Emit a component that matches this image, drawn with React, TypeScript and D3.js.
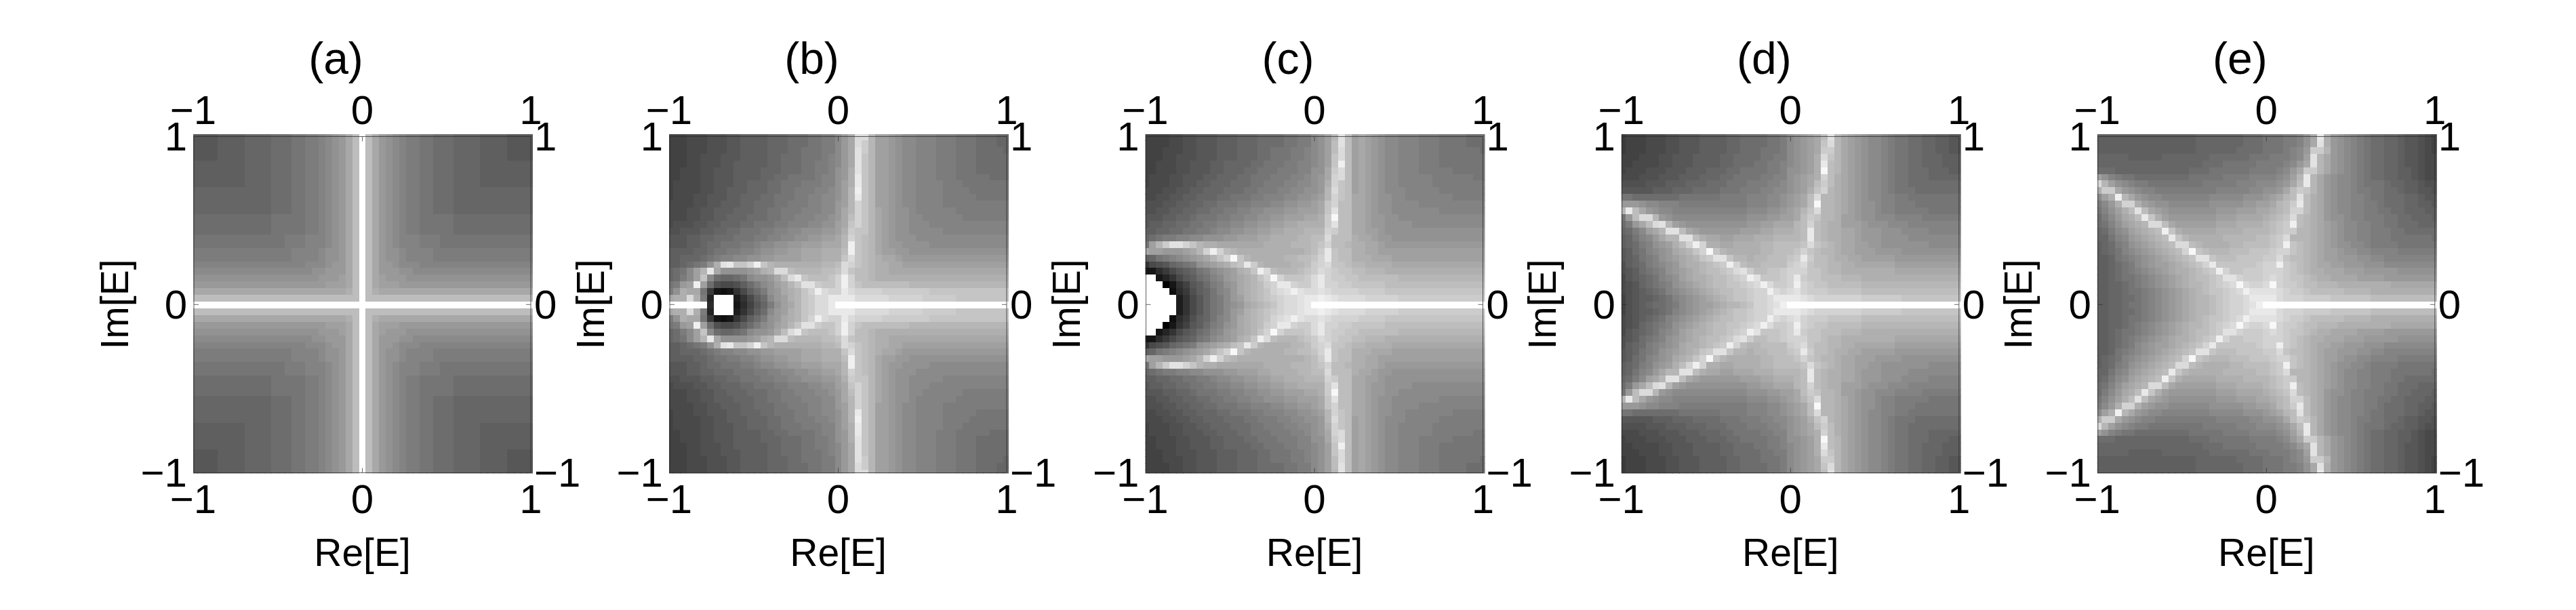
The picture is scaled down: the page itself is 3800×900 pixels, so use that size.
import React from "react";
import * as d3 from "d3";

// Grey level of each cell, one base-36 digit per cell (0 = black, z = white).
// Rows run from Im[E] = 1 down to Im[E] = 0; the lower half of every panel mirrors the upper half.
const panelA = [
  "ccccd dddee eefff gghhi jklnq z qnlkj ihhgg fffee eeddd dcccc",
  "ccccd dddee eefff gghhi jklnq z qnlkj ihhgg fffee eeddd dcccc",
  "ccccd dddee eefff gghhi jklnq z qnlkj ihhgg fffee eeddd dcccc",
  "ccccd dddee eefff gghhi jklnq z qnlkj ihhgg fffee eeddd dcccc",
  "ddddd dddee eefff gghhi jklnq z qnlkj ihhgg fffee eeddd ddddd",
  "ddddd dddee eefff gghhi jklnq z qnlkj ihhgg fffee eeddd ddddd",
  "ddddd dddee eefff gghhi jklnq z qnlkj ihhgg fffee eeddd ddddd",
  "ddddd dddee eefff gghhi jklnq z qnlkj ihhgg fffee eeddd ddddd",
  "eeeee eeeee eefff gghhi jklnq z qnlkj ihhgg fffee eeeee eeeee",
  "eeeee eeeee eefff gghhi jklnq z qnlkj ihhgg fffee eeeee eeeee",
  "eeeee eeeee eefff gghhi jklnq z qnlkj ihhgg fffee eeeee eeeee",
  "eeeee eeeee eefff gghhi jklnq z qnlkj ihhgg fffee eeeee eeeee",
  "fffff fffff ffggg gghhi jklnq z qnlkj ihhgg gggff fffff fffff",
  "fffff fffff ffggg gghhi jklnq z qnlkj ihhgg gggff fffff fffff",
  "fffff fffff ffggg gghhi jklnq z qnlkj ihhgg gggff fffff fffff",
  "ggggg ggggg ggggh hhiii jklnq z qnlkj iiihh hgggg ggggg ggggg",
  "ggggg ggggg ggggh hhiii jklnq z qnlkj iiihh hgggg ggggg ggggg",
  "hhhhh hhhhh hhhhh iiiij kklnq z qnlkk jiiii hhhhh hhhhh hhhhh",
  "hhhhh hhhhh hhhhh iiiij kklnq z qnlkk jiiii hhhhh hhhhh hhhhh",
  "iiiii iiiii iiiii iijjj kllnq z qnllk jjjii iiiii iiiii iiiii",
  "jjjjj jjjjj jjjjj jjjkk lllnq z qnlll kkjjj jjjjj jjjjj jjjjj",
  "kkkkk kkkkk kkkkk kkkkl llmnq z qnmll lkkkk kkkkk kkkkk kkkkk",
  "lllll lllll lllll lllll mmmnq z qnmmm lllll lllll lllll lllll",
  "nnnnn nnnnn nnnnn nnnnn nnnoq z qonnn nnnnn nnnnn nnnnn nnnnn",
  "qqqqq qqqqq qqqqq qqqqq qqqqq z qqqqq qqqqq qqqqq qqqqq qqqqq",
  "zzzzz zzzzz zzzzz zzzzz zzzzz z zzzzz zzzzz zzzzz zzzzz zzzzz",
];

const panelB = [
  "999aa abbbc cdddd eeeff fgghh j lnuup mmlkj jiiih hhggg fffee",
  "999aa abbbc cdddd eeeff fgghh j lnusp mmlkj jiiih hhggg fffee",
  "999aa abbbc cdddd eeeff ggghh j lnvsp mmlkj jiiih hhggg ffffe",
  "999aa bbbcc cdddd eefff ggghi j lnvrp mmlkj jiiih hhggg fffff",
  "999aa bbbcc ddddd eefff gghhi j lnvrp mmlkj jiiih hhggg fffff",
  "99aaa bbccc dddde eefff gghhi k lovrp mmlkj jiiih hhggg fffff",
  "99aaa bbccc dddde effgg gghii k lowrp mmlkj jiiih hhggg ggfff",
  "9aaaa bbccc ddeee ffggg hhhii k mowrp mmlkj jiiii hhhgg ggggg",
  "9aaaa bbccd ddeee ffggh hhiij k mpxrp mmlkj jiiii hhhhg ggggg",
  "9aaab bcccd deeef fgggh hiijj k mpwrp mmlkj jiiii hhhhh ggggg",
  "aaaab bccdd deeff fgghh hiijj l mptrp mmlkj jiiii hhhhh hhhhh",
  "aaabb ccddd eeeff gghhh iiijj l nptrp nmlkk jiiii iihhh hhhhh",
  "aaabb ccdde eefff gghhi iijjk l nqtrp nmlkk jjiii iiihh hhhhh",
  "abbbc cddee effgg ghhii ijjkk m nrtrp nmlkk jjjii iiiii iiiii",
  "bbccc ddeef fgggh hiijj kkkll m osrrp nmlkk jjjjj iiiii iiiii",
  "cccdd eefff ggghh iijjk kllmm n ptrqp nmlkk kjjjj jjjjj jjjjj",
  "cccdd effgg ghhij jkkll mmmnn n pxrqp nmllk kkkjj jjjjj jjjjj",
  "dddde efggh hiijk kllmm nnnoo o qxrqp nmmll kkkkk kkkkk kkkkk",
  "ddeee fghii jjkkl lmmmm nnnoo o rurqp onnml lllll lllll lllll",
  "ddefg hkovw rrtxr poooo ooopp q utrqp oonnm mmmmm mmmmm mmmmm",
  "efgjm pwnkk kklmo puuqp pppqq r urqqp oonnn nnnnn nnnnn nnnnn",
  "efhjm rjfee fgjkk lnquw rqqqr t xtqqp ooooo ooooo ooooo ooooo",
  "ghlmx mfbaa bdfhj kmnpr vvsrr t xtrqq qqqqq ppppp ppppp ppppp",
  "hkonn g8323 7adfh klnop rtxut t wuttt tssss sssrr rrrrr rrrrr",
  "noouo h5zzz 47adf jlmop rsuuw w wwuuu uuttt ttsss ssrrr rrrrr",
  "zzzzz z6zzz 369ce hkmnp rsuuw z zzzzz zzzzz zzzzz zzzzz zzzzz",
];

const panelC = [
  "9999a abbcc cddde eefff fgghh j kmpvq mnmlk jjiii hhhgg ggfff",
  "9999a abbcc cddde eefff fgghh j kmqvq mnmlk jjiii hhhgg ggfff",
  "999aa abbcc cddde eeffg gghhi j kmquq mnmlk jjiii hhhgg ggggf",
  "999aa bbbcc cddde eeffg gghhi j kmruq mnmlk jjiii hhhgg ggggg",
  "99aaa bbccc ddeee effgg ghhii j kmrxq mnmlk jjiii hhhgg ggggg",
  "99aaa bbccc ddeee ffggg hhhii k knsuq mnmlk jjiii hhhhh ggggg",
  "9aaab bcccd deeef fgggh hhiij k lntuq mnmlk jjiii iihhh hhhgg",
  "9aaab bccdd eeeff fgghh hiijj k lotrq mnmlk jjiii iihhh hhhhh",
  "aaabb ccdde eefff gghhh iijjk k lpurq mnmlk jjjii iiihh hhhhh",
  "aabbc cddee effgg ghhii ijjkk l mptrq nnmlk kjjii iiiii hhhhh",
  "bbbcc ddeef fgggh hiiij jkkll m nrtqq nnmlk kjjjj iiiii iiiii",
  "bbccd deeff gghhi ijjkk kllmm m nrvqq nnmlk kjjjj jjjii iiiii",
  "cccdd eefgg ghhii jjkkl lmmmn n osyqq nnmll kkjjj jjjjj jjjjj",
  "cddee ffggh hiijj kkllm mnnoo o osvqq nnmll kkkkj jjjjj jjjjj",
  "ddeef fgghh ijjkk llmmn nooop p ptsqq nnmml kkkkk kkkkk kkkkk",
  "efghh iijjk kkllm mmnno ooopp q quqqq onnml lkkkk kkkkk kkkkk",
  "gmpsv vtrpo onnnn nnnoo ooppp q rtqqp oonnm lllll lllll lllll",
  "nmmll lmnpt xtqpo ooooo oooop q swrqq oonnm mmmmm mmmmm mmmmm",
  "deghi jklmn prtyr poooo oppqq r twrqq ooonn nmmmm mmmmm mmmmm",
  "7abce fghkl mnoqr wspoo ooppq s turrq ppooo onnnn nnnnn nnnnn",
  "3368a cdegh jklmo prxuq pppqr s utsrr qqppp ooooo ooooo ooooo",
  "zz357 acdfg ijlmn oprty trrrs u wtssr rqqqq qqppp ppppp ppppp",
  "zzz03 79cdf hikln opqst wwtss u wttss rrrrr qqqqq qqqqq qqqqq",
  "zzzz2 68bde gijln opqrt uvxvu u vuttt tssss rrrrr rrrrr rrrrr",
  "zzzzz 47ace ghjlm opqrs tuuvw w xwvuu uuttt ttsss sssss sssss",
  "zzzzz 47ace ghjkl nopqr tuuvw z zzzzz zzzzz zzzzz zzzzz zzzzz",
];

const panelD = [
  "8999a aabbc ccddd deeff ffggh j klmnq vpnml kjjih ggffe eddcc",
  "8999a aabbc ccddd deeff ffggh j klmnr upnml kjjih ggffe eddcc",
  "8999a aabbc ccddd deeff fgggh j klmns spnml kjjih ggffe eddcc",
  "999aa abbcc cdddd eefff fgghh j klmou rpnml kjjih ggffe eeddd",
  "99aaa abbcc cdddd eefff gghhi j klmow qpnml kjjih ggffe eeddd",
  "9aaab bbccc dddee effgg gghhi k klmoy qpnml kjjih ggfff eeedd",
  "aaabb bcccd ddeee ffggg ghhii k lmnot qonml kjjih ggfff eeeee",
  "bbbbc ccddd eeeff fgggh hhiij k lmnqs qonml kjjih ggfff fffff",
  "ccccc dddee effff ggghh hiijj k lmort ponml kjjih gggff fffff",
  "ggfff ffffg ggggg hhhhi iijjk l mnqup ponml kjjii hhggg ggggg",
  "lllkj jiiih hhhhh hhhhi iijjk l mnqyp ponml kkjii hhhgg ggggg",
  "pwqnl kjjii iiiii iiiij jjkkl m nprup ponml kkjii hhhhh ggggg",
  "glquu plkjj jjjjj jjjjk kkllm m nqsrp pomml kkjjj iiiih hhhhh",
  "fhlnq uvpml kkkkk kkkkl lmmnn n pqtqp oommm lkkkj jjiii iiiii",
  "efhjm npvvq nmlll lllmm mnnoo o pqwqp oonnm lllkk kjjjj iiiii",
  "degij lnppv vqonn mmnnn ooopp p pqwqp oonnm lllkk kkjjj jjjjj",
  "defhi klmoq txtoo nnooo oppqq q qrurq ponnm mllkk kkkkk jjjjj",
  "cdfgi jklno prtyr poooo oppqq q rtrqp ponnm mmlll lkkkk kkkkk",
  "cdegh iklmn oprsv vrppo ppqqq r swsqq poonn mmmmm lllll lllll",
  "bdefh ijkln oopqr sxtqp pqqqq s turqq ppoon nnnnn mmmmm mmmmm",
  "bcdfg hiklm nopqq rsuvs qqrrs t ttrrq ppooo ooooo nnnnn nnnnn",
  "acdef gijkm noopq qrstx vrrrs t wsrrq qqppp ooooo ooooo ooooo",
  "abcef ghikl mnopq qrrst uxuss t xtsrr qqqqq ppppp ppppp ppppp",
  "abcde fgijk lmnop qqrrs ttxut u vtsss rrrrr qqqqq qqqqq qqqqq",
  "9bcdd efgij klmno pqrrs ttuww w wvutt ttttt sssss srrrr rrrrr",
  "9bcde ffghj klmmn oppqr ttuvx z zzzzz zzzzz zzzzz zzzzz zzzzz",
];

const panelE = [
  "ddddd ddddd ddddd eeeee eefff g gghhi knwol kjihg ffeed ccba9",
  "ddddd ddddd ddddd eeeee eefff g gghhi knvol kjihg ffeed ccba9",
  "ddddd ddddd ddddd eeeee effff g gghij lsspl kjihg ffeed ccba9",
  "eeeee ddddd eeeee eefff fffgg g hhhij mvpnl kjihg ffeed ccbaa",
  "eeeee eeeee eeeee efffg ggggh h hhijl nvpnl kjihg ffeed ccbaa",
  "fffee eeeee eeeef ffggg ggghh h hijln sspnl kjihg ffeed dcbaa",
  "mkihg gffff ffffg ggggh hhhii i ijkmp wpnlk jjihg ffeed dcbaa",
  "upmkj ihhgg ggggg ghhhh hiiij j jklnq wpnlk jjihg ggfee ddcbb",
  "ossnl kjiih hhhhh hhhii iiijj k klnqs rpnlk jjihh ggffe ddccb",
  "jmoxp nlkjj iiiii iijjj jjkkk l mnpqv qonlk jjiih ggfff eedcc",
  "hjlot tomlk kjjjj jjkkk kkllm m npqsw qonlk jjiih hgfff eeddc",
  "gikmo qvqnm lkkkk kkkll lmmmn n opqtt qonlk jjiih hggff eeedd",
  "fhjln oqwro mllll lllmm mnnnn o pqruq ponlk kjiih hhggf feeed",
  "fgikm nopuu qnmmm mmmnn noooo p qrsxq ponml kjjii hhggf ffeee",
  "efhjk mnopq xronn nnnoo ooppp p qrssp ponml kjjii hhhgg fffff",
  "eegij lmnop qwrpo oooop ppppq q rsupp ponml kjjii hhhgg ggggf",
  "defhi klmno pquuq poooo ppqqq q rsxrq ponml kkjji hhhhg ggggg",
  "defgi jklmn opqty rqppp qqqrr r sttrq ponmm lkkjj iiiih hhhhh",
  "ddegh ijklm nopqr vvrqq qrrrr s surqq ponmm lllkk jjiii iiiii",
  "ddefg hjklm mnopq rtwrr rrrrs t txsrq ponnm mlllk kkjjj jjjjj",
  "ddefg hijkl mnoop qrsxt rrsss t ttsrq poonn nmmml llllk kkkkk",
  "ddefg ghijk lmnop qqrsv vtsss t utsrr qpoon nnnmm mmlll lllll",
  "ddeef ghijk lmnop pqrst uyutt u ytssr qqppp ooooo ooonn nnnnn",
  "ddeef gghij klmno pqrrs tuxvv v vutss rqqqq qpppp ooooo ooooo",
  "ddeef fghij klmno ppqrs ttuww w wuttt ssssr rrrrr qqqqq qqqqq",
  "ddeef gghij klmno ppqrs ttuvx z zzzzz zzzzz zzzzz zzzzz zzzzz",
];

const panelTitles = ["(a)", "(b)", "(c)", "(d)", "(e)"];
const panelGrids = [panelA, panelB, panelC, panelD, panelE];
const tickValues = [-1, 0, 1];
const xAxisLabel = "Re[E]";
const yAxisLabel = "Im[E]";

const FONT = '"Liberation Sans", Arial, sans-serif';
const TICK_SIZE = 60;
const LABEL_SIZE = 57;
const TITLE_SIZE = 66;
const centers = [534.5, 1236.5, 1939, 2641.3, 3343.3];

const grey = d3.scaleLinear().domain([0, 35]).range([0, 255]);
const fmt = (v: number) => (v < 0 ? "\u2212" + Math.abs(v) : String(v));

function decode(rows: string[]): number[][] {
  const top = rows.map((r) =>
    r.replace(/ /g, "").split("").map((ch) => parseInt(ch, 36)),
  );
  return [...top, ...top.slice(0, -1).reverse()];
}

function Panel({ index }: { index: number }) {
  const cx = centers[index];
  const x = d3.scaleLinear().domain([-1, 1]).range([cx - 248.5, cx + 248.5]);
  const y = d3.scaleLinear().domain([-1, 1]).range([698, 202]);
  const grid = decode(panelGrids[index]);
  const n = grid.length;
  const re = d3.scaleLinear().domain([0, n - 1]).range([-1, 1]);
  const im = d3.scaleLinear().domain([0, n - 1]).range([1, -1]);
  const cw = x(re(1)) - x(re(0));
  const ch = y(im(1)) - y(im(0));
  const clipId = `clip-${index}`;
  const imgL = cx - 249.5;
  const imgR = cx + 251.5;
  const frameStroke = "#2a2a2a";
  return (
    <g>
      <defs>
        <clipPath id={clipId}>
          <rect x={imgL} y={198} width={imgR - imgL} height={500.5} />
        </clipPath>
      </defs>
      <g clipPath={`url(#${clipId})`} shapeRendering="crispEdges">
        {grid.map((row, r) =>
          row.map((v, c) => {
            const g = Math.round(grey(v));
            return (
              <rect
                key={`${r}-${c}`}
                x={x(re(c)) - cw / 2}
                y={y(im(r)) - ch / 2}
                width={cw + 0.6}
                height={ch + 0.6}
                fill={`rgb(${g},${g},${g})`}
              />
            );
          }),
        )}
      </g>
      <rect
        x={x(-1)}
        y={201.5}
        width={x(1) - x(-1)}
        height={496}
        fill="none"
        stroke={frameStroke}
        strokeOpacity={0.75}
        strokeWidth={1}
      />
      <g stroke={frameStroke} strokeOpacity={0.7} strokeWidth={1}>
        <line x1={x(0)} x2={x(0)} y1={201.5} y2={208.5} />
        <line x1={x(0)} x2={x(0)} y1={697.5} y2={690.5} />
        <line x1={x(-1)} x2={x(-1) + 7} y1={y(0) - 0.7} y2={y(0) - 0.7} />
        <line x1={x(1)} x2={x(1) - 7} y1={y(0) - 0.7} y2={y(0) - 0.7} />
      </g>
      <g fontFamily={FONT} fontSize={TICK_SIZE} fill="#000">
        {tickValues.map((t) => (
          <text key={`t${t}`} x={x(t) - (t < 0 ? 1 : 0)} y={183} textAnchor="middle">
            {fmt(t)}
          </text>
        ))}
        {tickValues.map((t) => (
          <text key={`b${t}`} x={x(t) - (t < 0 ? 1 : 0)} y={757} textAnchor="middle">
            {fmt(t)}
          </text>
        ))}
        {tickValues.map((t) => (
          <text key={`l${t}`} x={x(-1) - 10} y={y(t) + 20} textAnchor="end">
            {fmt(t)}
          </text>
        ))}
        {tickValues.map((t) => (
          <text key={`r${t}`} x={x(1) + 5} y={y(t) + 20} textAnchor="start">
            {fmt(t)}
          </text>
        ))}
      </g>
      <text
        x={cx}
        y={835}
        textAnchor="middle"
        fontFamily={FONT}
        fontSize={LABEL_SIZE}
        fill="#000"
      >
        {xAxisLabel}
      </text>
      <text
        transform={`translate(${cx - 346},449) rotate(-90)`}
        textAnchor="middle"
        fontFamily={FONT}
        fontSize={LABEL_SIZE}
        fill="#000"
      >
        {yAxisLabel}
      </text>
      <text
        x={cx - 39}
        y={109}
        textAnchor="middle"
        fontFamily={FONT}
        fontSize={TITLE_SIZE}
        fill="#000"
      >
        {panelTitles[index]}
      </text>
    </g>
  );
}

export default function App() {
  return (
    <svg
      width={3800}
      height={900}
      style={{ position: "absolute", left: 0, top: 0, background: "#fff" }}
    >
      {panelTitles.map((_, i) => (
        <Panel key={i} index={i} />
      ))}
    </svg>
  );
}
